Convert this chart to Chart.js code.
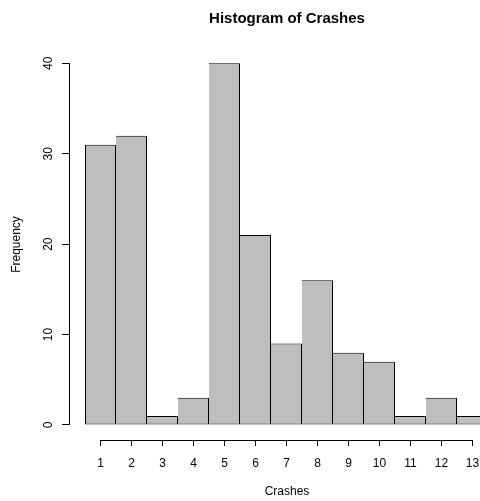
<!DOCTYPE html>
<html>
<head>
<meta charset="utf-8">
<title>Histogram of Crashes</title>
<script src="https://cdn.jsdelivr.net/npm/chart.js@4/dist/chart.umd.min.js"></script>
<style>
  html, body { margin: 0; padding: 0; background: #ffffff; overflow: hidden; }
  #frame { width: 480px; height: 501px; overflow: hidden; position: relative; }
  #chart { display: block; }
</style>
</head>
<body>
<div id="frame"><canvas id="chart" width="505" height="501"></canvas></div>
<script>
// Histogram bins (crash counts) and how often each occurred
const crashBins   = [1, 2, 3, 4, 5, 6, 7, 8, 9, 10, 11, 12, 13];
const frequencies = [31, 32, 1, 3, 40, 21, 9, 16, 8, 7, 1, 3, 1];

// Axis tick labels
const xTickValues = [1, 2, 3, 4, 5, 6, 7, 8, 9, 10, 11, 12, 13];
const yTickValues = [0, 10, 20, 30, 40];

const FONT = '"Liberation Sans", Arial, Helvetica, sans-serif';
Chart.defaults.font.family = FONT;
Chart.defaults.color = '#000000';

// Base-graphics style axis lines: they run only from the first to the last tick
const axisLines = {
  id: 'axisLines',
  afterDraw(chart) {
    const { ctx } = chart;
    const xs = chart.scales.x, ys = chart.scales.y;
    const align = v => Math.round(v - 0.5) + 0.5;
    ctx.save();
    ctx.strokeStyle = '#000000';
    ctx.lineWidth = 1;
    ctx.lineCap = 'square';
    ctx.beginPath();
    const xa = align(xs.getPixelForValue(xTickValues[0]));
    const xb = align(xs.getPixelForValue(xTickValues[xTickValues.length - 1]));
    const xy = Math.round(xs.top) + 0.5;
    ctx.moveTo(xa, xy);
    ctx.lineTo(xb, xy);
    const ya = align(ys.getPixelForValue(yTickValues[0]));
    const yb = align(ys.getPixelForValue(yTickValues[yTickValues.length - 1]));
    const yx = Math.round(ys.right) + 0.5;
    ctx.moveTo(yx, ya);
    ctx.lineTo(yx, yb);
    ctx.stroke();
    ctx.restore();
  }
};

new Chart(document.getElementById('chart'), {
  type: 'bar',
  data: {
    datasets: [{
      label: 'Frequency',
      data: crashBins.map((b, i) => ({ x: b, y: frequencies[i] })),
      backgroundColor: '#BEBEBE',
      borderColor: '#000000',
      borderWidth: 1,
      // neighbouring bars share one edge line
      borderSkipped: ctx => (ctx.dataIndex === 0 ? false : 'left'),
      inflateAmount: 0,
      barPercentage: 1,
      categoryPercentage: 1,
      clip: false
    }]
  },
  options: {
    responsive: false,
    animation: false,
    devicePixelRatio: 1,
    layout: { padding: 0 },
    plugins: {
      legend: { display: false },
      tooltip: { enabled: false },
      title: {
        display: true,
        fullSize: false,
        text: 'Histogram of Crashes',
        color: '#000000',
        font: { family: FONT, size: 15, weight: 'bold', lineHeight: 1.2 },
        padding: { top: 10, bottom: 21 }
      }
    },
    scales: {
      x: {
        type: 'linear',
        position: 'bottom',
        min: -0.0161,
        max: 14.0484,
        offset: false,
        border: { display: false },
        grid: {
          offset: false,
          drawOnChartArea: false,
          drawTicks: true,
          tickLength: 6,
          color: '#000000',
          lineWidth: 1
        },
        ticks: {
          autoSkip: false,
          maxRotation: 0,
          padding: 10,
          color: '#000000',
          font: { family: FONT, size: 12 }
        },
        afterBuildTicks: s => { s.ticks = xTickValues.map(v => ({ value: v })); },
        afterFit: s => { s.height = 61; },
        title: {
          display: true,
          text: 'Crashes',
          color: '#000000',
          font: { family: FONT, size: 12 },
          padding: { top: 2, bottom: 2 }
        }
      },
      y: {
        type: 'linear',
        position: 'left',
        min: -1.66,
        max: 41.58,
        border: { display: false },
        grid: {
          offset: false,
          drawOnChartArea: false,
          drawTicks: true,
          tickLength: 7,
          color: '#000000',
          lineWidth: 1
        },
        ticks: {
          minRotation: 90,
          maxRotation: 90,
          crossAlign: 'center',
          padding: 7,
          color: '#000000',
          font: { family: FONT, size: 12 }
        },
        afterBuildTicks: s => { s.ticks = yTickValues.map(v => ({ value: v })); },
        afterFit: s => { s.width = 69; },
        title: {
          display: true,
          text: 'Frequency',
          color: '#000000',
          font: { family: FONT, size: 12 },
          padding: { top: 9.5, bottom: 0 }
        }
      }
    }
  },
  plugins: [axisLines]
});
</script>
</body>
</html>
